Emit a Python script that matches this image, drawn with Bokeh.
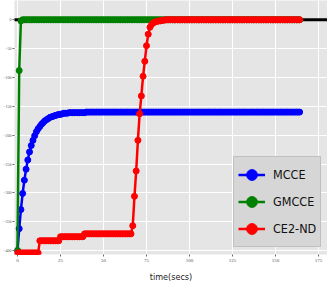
from bokeh.plotting import figure
from bokeh.models import Range1d, FixedTicker, Legend, LegendItem
from bokeh.embed import file_html
from bokeh.resources import INLINE

# ---- data ----
time_s = list(range(165))

mcce = [-400, -362, -329, -301, -278, -259, -243, -229, -218, -209,
        -201, -194, -189, -185, -181, -178, -175, -173, -171, -169,
        -168, -167, -166, -165, -164, -164, -163, -162, -162, -162,
        -161, -161, -161, -161, -161, -161, -161, -161, -161, -161] + [-160] * 125

gmcce = [-400, -88, -2] + [0] * 162

ce2nd = ([-404] * 13 + [-383] * 12 + [-376] * 14 + [-371] * 28 +
         [-357, -306, -262, -209, -163, -132, -98, -72, -45, -25,
          -13, -8, -5, -4, -3, -2, -2, -1, -1] + [0] * 79)

ref_t = [-5, 185]
ref_y = [0, 0]

x_ticks = [0, 25, 50, 75, 100, 125, 150, 175]
y_ticks = [0, -50, -100, -150, -200, -250, -300, -350, -400]

series = [("MCCE", mcce, "#0000ff"), ("GMCCE", gmcce, "#008000"), ("CE2-ND", ce2nd, "#ff0000")]

COND = "DejaVu Sans Condensed, Liberation Sans Narrow, Roboto"

p = figure(width=327, height=284, output_backend="svg", toolbar_location=None,
           x_range=Range1d(-1.73, 180.2), y_range=Range1d(-406.8, 33.4),
           min_border_left=12, min_border_right=0, min_border_top=0, min_border_bottom=27,
           background_fill_color="#e5e5e5", border_fill_color="white",
           outline_line_color=None,
           styles={"position": "absolute", "left": "0px", "top": "0px"})

p.line(ref_t, ref_y, line_color="black", line_width=3)
items = []
for name, vals, col in series:
    ln = p.line(time_s, vals, line_color=col, line_width=2.5)
    key = p.scatter(time_s, vals, size=4, fill_color=col, line_color=col)
    p.scatter(time_s, vals, size=6, fill_color=col, line_color=col)
    items.append(LegendItem(label=name, renderers=[ln, key]))

p.grid.grid_line_color = "white"
p.grid.grid_line_width = 1
p.xaxis.ticker = FixedTicker(ticks=x_ticks)
p.yaxis.ticker = FixedTicker(ticks=y_ticks)
for ax in (p.xaxis, p.yaxis):
    ax.axis_line_color = None
    ax.major_tick_line_color = "#666666"
    ax.major_tick_out = 2
    ax.major_tick_in = 0
    ax.minor_tick_line_color = None
    ax.major_label_text_font = "Liberation Serif"
    ax.major_label_text_font_size = "4px"
    ax.major_label_text_color = "#555555"
    ax.major_label_standoff = 1
p.xaxis.major_label_text_font_size = "5px"
p.xaxis.major_label_standoff = 2
p.xaxis.axis_label = "time(secs)"
p.xaxis.axis_label_text_font = COND
p.xaxis.axis_label_text_font_size = "9px"
p.xaxis.axis_label_text_font_style = "normal"
p.xaxis.axis_label_text_color = "#222222"
p.xaxis.axis_label_standoff = 7

lg = Legend(items=items, location=(219, 7))
lg.margin = 0
lg.padding = 4
lg.spacing = 0
lg.glyph_width = 27
lg.glyph_height = 27
lg.label_height = 27
lg.label_standoff = 8
lg.label_text_font = COND
lg.label_text_font_size = "12.5px"
lg.label_text_color = "#111111"
lg.background_fill_color = "#d6d6d6"
lg.background_fill_alpha = 1
lg.border_line_color = "#aaaaaa"
lg.border_line_width = 1
p.add_layout(lg, "center")

open("out.html", "w").write(file_html(p, INLINE))
